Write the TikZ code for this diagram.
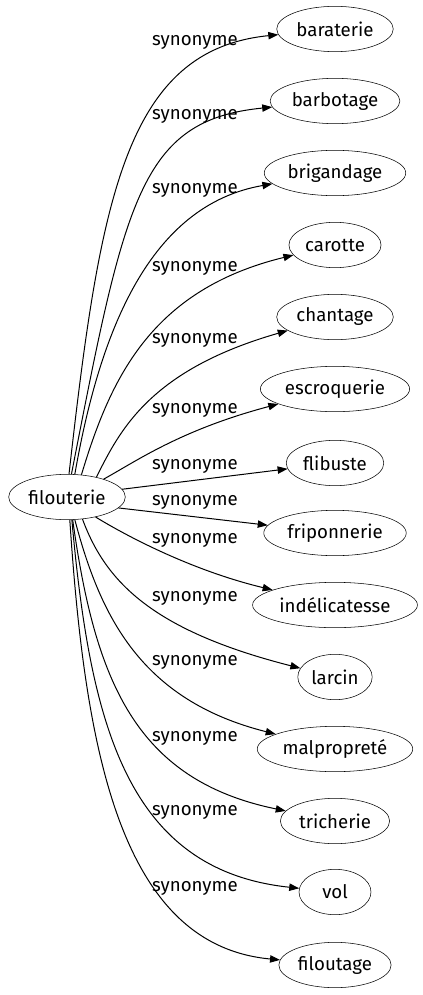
\documentclass[tikz,border=0pt]{standalone}
\usepackage{fontspec}
\setmainfont{Fira Sans}
\usetikzlibrary{arrows.meta, shapes.geometric}

\begin{document}
\begin{tikzpicture}[x=0.75pt, y=0.75pt,
  word/.style={draw, ellipse, minimum width=54pt, minimum height=34pt, inner xsep=2pt, font=\fontsize{14}{16}\selectfont},
  syn/.style={font=\fontsize{14}{16}\selectfont, inner sep=0pt},
  arr/.style={-{Triangle[length=7.5pt, width=5.5pt]}, line width=0.75pt},
]
\useasboundingbox (0,0) rectangle (422,-995);
% Source
\node[word] (fil) at (67,-497) {filouterie};
% Synonyms
\node[word] (s1) at (335,-29) {baraterie};
\node[word] (s2) at (335,-101) {barbotage};
\node[word] (s3) at (335,-173) {brigandage};
\node[word] (s4) at (335,-245) {carotte};
\node[word] (s5) at (335,-317) {chantage};
\node[word] (s6) at (335,-389) {escroquerie};
\node[word] (s7) at (335,-463) {flibuste};
\node[word] (s8) at (335,-533) {friponnerie};
\node[word] (s9) at (335,-605) {indélicatesse};
\node[word] (s10) at (335,-677) {larcin};
\node[word] (s11) at (335,-749) {malpropreté};
\node[word] (s12) at (335,-821) {tricherie};
\node[word] (s13) at (335,-892) {vol};
\node[word] (s14) at (335,-965) {filoutage};

% Edges
\draw[arr] (fil.85) .. controls (100,-200) and (125,-50) .. (s1);
\draw[arr] (fil.79) .. controls (125,-200) and (140,-120) .. (s2);
\draw[arr] (fil.71) .. controls (100,-330) and (150,-205) .. (s3);
\draw[arr] (fil.57) .. controls (110,-380) and (150,-290) .. (s4);
\draw[arr] (fil.34) .. controls (120,-430) and (150,-370) .. (s5);
\draw[arr] (fil.26) .. controls (135,-462) and (180,-430) .. (s6);
\draw[arr] (fil.8) -- (s7);
\draw[arr] (fil.-12) -- (s8);
\draw[arr] (fil.-35) .. controls (125,-535) and (190,-570) .. (s9);
\draw[arr] (fil.-55) .. controls (105,-580) and (150,-630) .. (s10);
\draw[arr] (fil.-71) .. controls (100,-615) and (140,-700) .. (s11);
\draw[arr] (fil.-76) .. controls (95,-680) and (135,-780) .. (s12);
\draw[arr] (fil.-78) .. controls (90,-720) and (125,-870) .. (s13);
\draw[arr] (fil.-83) .. controls (85,-750) and (120,-945) .. (s14);

% Labels
\node[syn] (l1) at (195,-42) {synonyme};
\node[syn] (l2) at (195,-116) {synonyme};
\node[syn] (l3) at (195,-190) {synonyme};
\node[syn] (l4) at (195,-268) {synonyme};
\node[syn] (l5) at (195,-340) {synonyme};
\node[syn] (l6) at (195,-410) {synonyme};
\node[syn] (l7) at (195,-466) {synonyme};
\node[syn] (l8) at (195,-502) {synonyme};
\node[syn] (l9) at (195,-540) {synonyme};
\node[syn] (l10) at (195,-598) {synonyme};
\node[syn] (l11) at (195,-662) {synonyme};
\node[syn] (l12) at (195,-738) {synonyme};
\node[syn] (l13) at (195,-812) {synonyme};
\node[syn] (l14) at (195,-888) {synonyme};
\end{tikzpicture}
\end{document}
